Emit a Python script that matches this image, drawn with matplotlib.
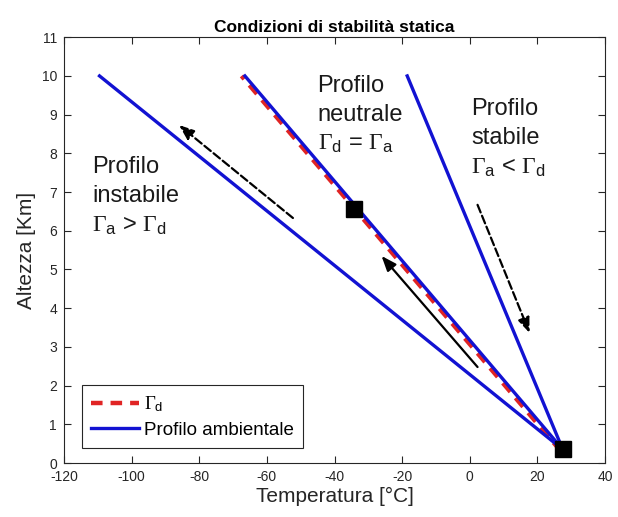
"""Static stability conditions: dry adiabat vs. environmental profiles."""

import matplotlib

matplotlib.use("Agg")
import matplotlib.pyplot as plt

plt.rcParams["font.family"] = ["Liberation Sans", "DejaVu Sans"]
plt.rcParams["mathtext.fontset"] = "custom"
plt.rcParams["mathtext.rm"] = "Liberation Serif"
plt.rcParams["mathtext.sf"] = "Liberation Sans"
plt.rcParams["mathtext.it"] = "Liberation Serif:italic"
plt.rcParams["axes.unicode_minus"] = False

AX_COLOR = "#262626"
BLUE = "#1212d2"
RED = "#e02424"

# Environmental profiles (temperature in °C, height in km)
Z_PROFILE = [0.35, 10.0]
T_UNSTABLE = [27.5, -109.5]
T_NEUTRAL = [27.5, -66.5]
T_STABLE = [27.5, -18.5]

# Dry adiabatic lapse rate
T_DRY = [27.0, -67.5]
Z_DRY = [0.30, 10.0]

# Air parcel positions (squares)
T_PARCEL = [27.5, -34.3]
Z_PARCEL = [0.35, 6.56]

# Arrows: (tail T, tail z, tip T, tip z, linestyle)
ARROWS = [
    (2.3, 2.48, -26.1, 5.35, "-"),
    (-52.3, 6.33, -86.0, 8.73, "--"),
    (2.3, 6.67, 17.7, 3.36, "--"),
]

LABELS = [
    (-111.7, 7.93, "Profilo\ninstabile\n$\\Gamma_\\mathsf{a}$ > $\\Gamma_\\mathsf{d}$"),
    (-45.0, 10.03, "Profilo\nneutrale\n$\\Gamma_\\mathsf{d}$ = $\\Gamma_\\mathsf{a}$"),
    (0.5, 9.43, "Profilo\nstabile\n$\\Gamma_\\mathsf{a}$ < $\\Gamma_\\mathsf{d}$"),
]


def main():
    fig = plt.figure(figsize=(6.18, 5.17), dpi=100)
    ax = fig.add_axes([0.1036, 0.1044, 0.8754, 0.8236])

    # Dry adiabat under the environmental lines
    (dry,) = ax.plot(T_DRY, Z_DRY, color=RED, lw=3.2, dashes=(2.6, 1.8), zorder=2)
    env = None
    for temps in (T_UNSTABLE, T_NEUTRAL, T_STABLE):
        (env,) = ax.plot(temps, Z_PROFILE, color=BLUE, lw=2.4, zorder=3)

    ax.plot(T_PARCEL, Z_PARCEL, "s", color="k", ms=11.5, zorder=5, linestyle="none")

    for t0, z0, t1, z1, ls in ARROWS:
        ax.annotate(
            "",
            xy=(t1, z1),
            xytext=(t0, z0),
            arrowprops=dict(
                arrowstyle="-|>,head_length=0.9,head_width=0.35",
                color="k",
                lw=1.6,
                ls=ls,
                shrinkA=0,
                shrinkB=0,
                mutation_scale=10,
            ),
            zorder=4,
        )

    for t, z, s in LABELS:
        ax.text(t, z, s, fontsize=17, va="top", ha="left", linespacing=1.42,
                color="#1a1a1a")

    ax.set_xlim(-120, 40)
    ax.set_ylim(0, 11)
    ax.set_xticks(range(-120, 41, 20))
    ax.set_yticks(range(0, 12))
    ax.tick_params(direction="in", top=True, right=True, length=5, width=0.8,
                   labelsize=10, colors=AX_COLOR, pad=5)
    for spine in ax.spines.values():
        spine.set_color(AX_COLOR)
        spine.set_linewidth(0.8)

    ax.set_xlabel("Temperatura [°C]", fontsize=15, color=AX_COLOR, labelpad=2)
    ax.set_ylabel("Altezza [Km]", fontsize=15, color=AX_COLOR, labelpad=4)
    ax.set_title("Condizioni di stabilità statica", fontsize=12.5,
                 fontweight="bold", pad=4)

    leg = ax.legend(
        [dry, env],
        ["$\\Gamma_\\mathsf{d}$", "Profilo ambientale"],
        loc="lower left",
        bbox_to_anchor=(0.033, 0.035),
        borderaxespad=0,
        fontsize=13.5,
        handlelength=2.55,
        handletextpad=0.25,
        labelspacing=0.4,
        borderpad=0.5,
        fancybox=False,
        framealpha=1,
    )
    leg.get_frame().set_edgecolor(AX_COLOR)
    leg.get_frame().set_linewidth(0.8)

    fig.savefig("out.png", dpi=100)


if __name__ == "__main__":
    main()
